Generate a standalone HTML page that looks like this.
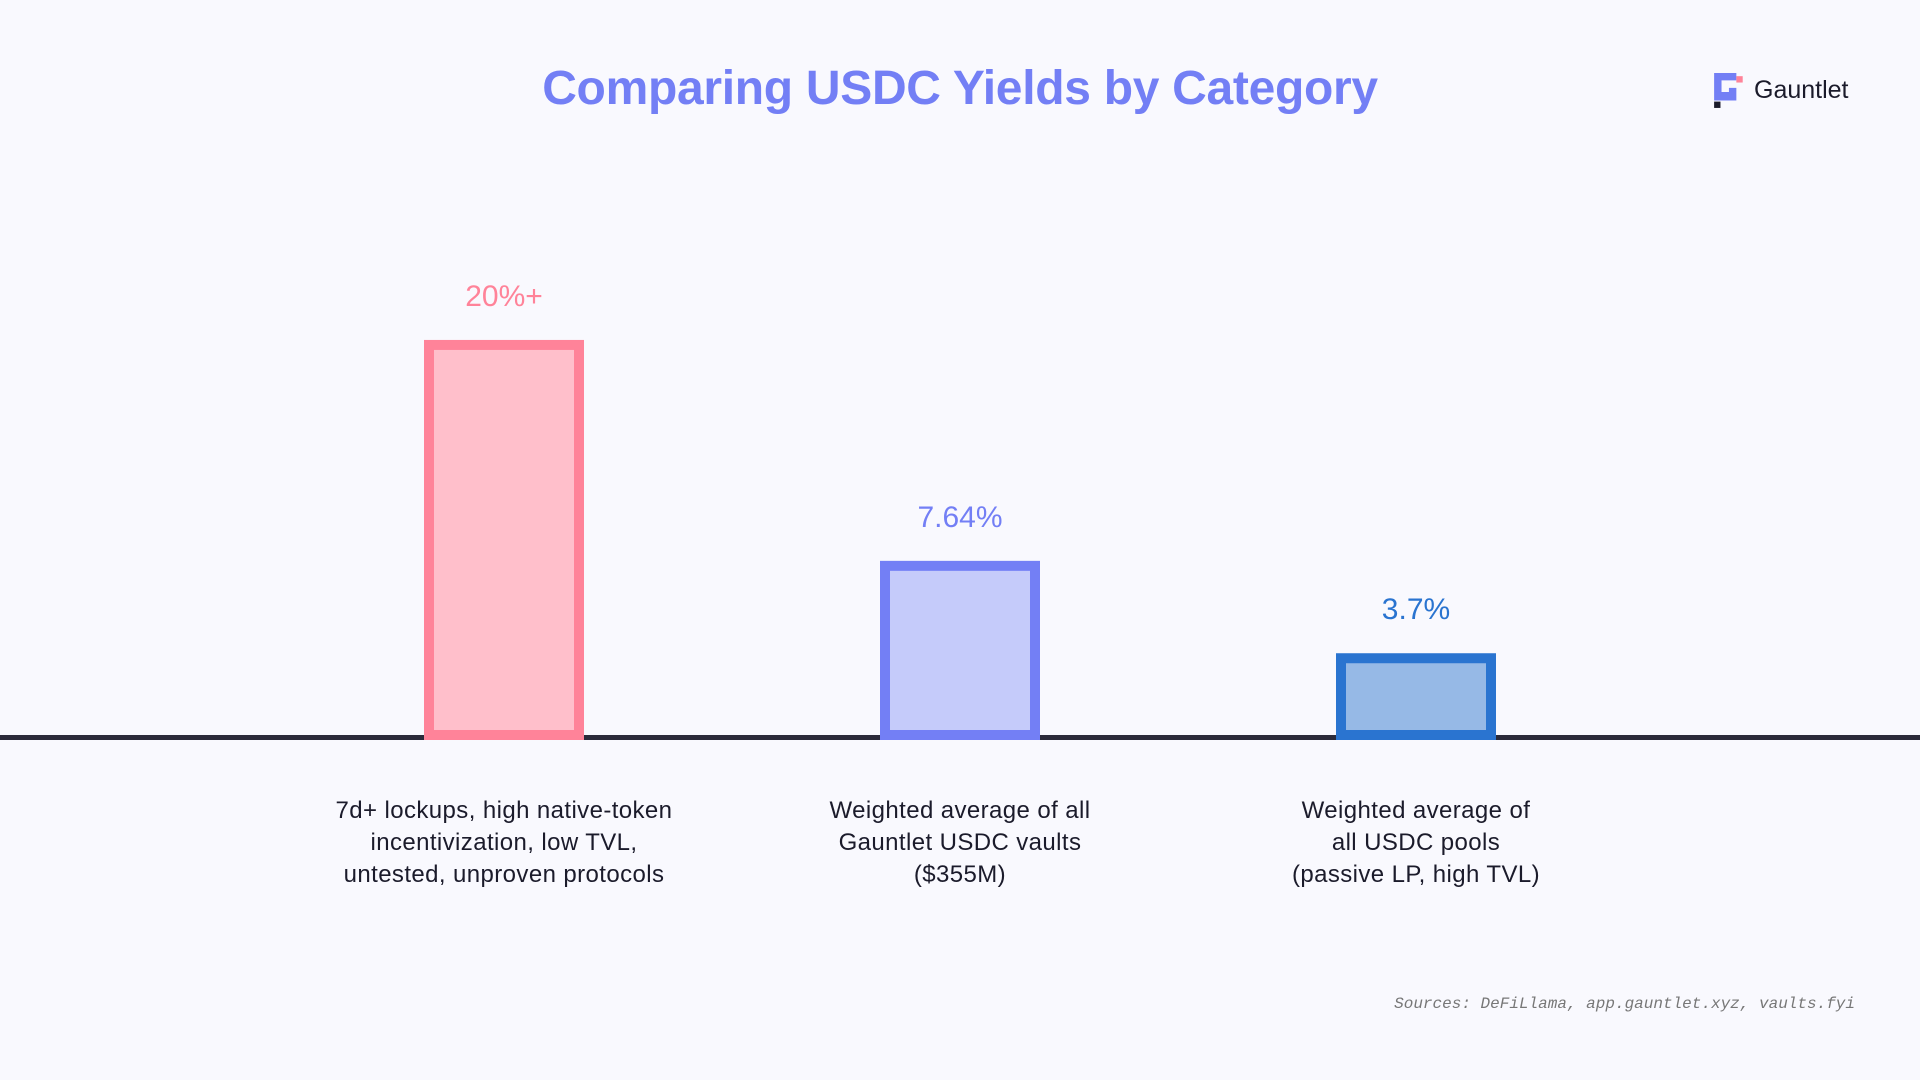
<!DOCTYPE html>
<html><head><meta charset="utf-8">
<style>
html,body{margin:0;padding:0;background:#f9f9fe;}
body{width:1920px;height:1080px;position:relative;overflow:hidden;font-family:"Liberation Sans",sans-serif;}
#title{position:absolute;left:0;width:1920px;top:61px;text-align:center;font-size:48px;font-weight:bold;color:#737ff5;letter-spacing:-0.3px;}
#brand{position:absolute;left:1754px;top:76px;font-size:25px;color:#1b1b2b;}
#sources{position:absolute;right:65px;top:995px;font-family:"Liberation Mono",monospace;font-style:italic;font-size:16px;color:#777;}
</style></head><body>
<div id="title">Comparing USDC Yields by Category</div>
<svg style="position:absolute;left:1714px;top:73px" width="32" height="36" viewBox="0 0 30 34">
<path d="M0 0H21V7H7V18H14V14H21V26H0Z" fill="#737ff5"/>
<rect x="21" y="3" width="6" height="6" fill="#ff8399"/>
<rect x="0" y="27" width="6" height="6" fill="#1b1b2b"/>
</svg>
<div id="brand">Gauntlet</div>
<svg id="chart" width="1920" height="1080" style="position:absolute;left:0;top:0"></svg>
<div id="sources">Sources: DeFiLlama, app.gauntlet.xyz, vaults.fyi</div>
<script>
const categories = ["7d+ lockups, high native-token|incentivization, low TVL,|untested, unproven protocols","Weighted average of all|Gauntlet USDC vaults|($355M)","Weighted average of|all USDC pools|(passive LP, high TVL)"];
const values = [17.06, 7.64, 3.7];
const valueLabels = ["20%+", "7.64%", "3.7%"];
const NS="http://www.w3.org/2000/svg";
const svg=document.getElementById('chart');
const baseY=740, pxPerUnit=23.45, x0=504, step=456, barW=160, bw=10;
const strokes=["#ff8399","#737ff5","#2a74d0"], fills=["#ffbfcb","#c5cbfa","#96b9e6"];
const xScale=i=>x0+i*step;
const yScale=v=>baseY-v*pxPerUnit;
function mk(t,a){const e=document.createElementNS(NS,t);for(const k in a)e.setAttribute(k,a[k]);return e;}
const axis=mk('line',{x1:0,x2:1920,y1:baseY-2.5,y2:baseY-2.5,stroke:'#2b2a3a','stroke-width':5});


svg.appendChild(axis);
values.forEach((v,i)=>{
  const cx=xScale(i), top=yScale(v);
  const r=mk('rect',{x:cx-barW/2+bw/2,y:top+bw/2,width:barW-bw,height:baseY-top-bw,fill:fills[i],stroke:strokes[i],'stroke-width':bw});
  
  
  svg.appendChild(r);
  const t=mk('text',{x:cx,y:top-34,'text-anchor':'middle','font-size':30,fill:strokes[i],'font-family':'Liberation Sans, sans-serif'});
  t.textContent=valueLabels[i];
  
  
  svg.appendChild(t);
  categories[i].split('|').forEach((ln,j)=>{
    const c=mk('text',{x:cx,y:818+j*32,'text-anchor':'middle','font-size':24,'letter-spacing':0.4,fill:'#1b1b2b','font-family':'Liberation Sans, sans-serif'});
    c.textContent=ln;
    
    
    svg.appendChild(c);
  });
});
</script>
</body></html>
